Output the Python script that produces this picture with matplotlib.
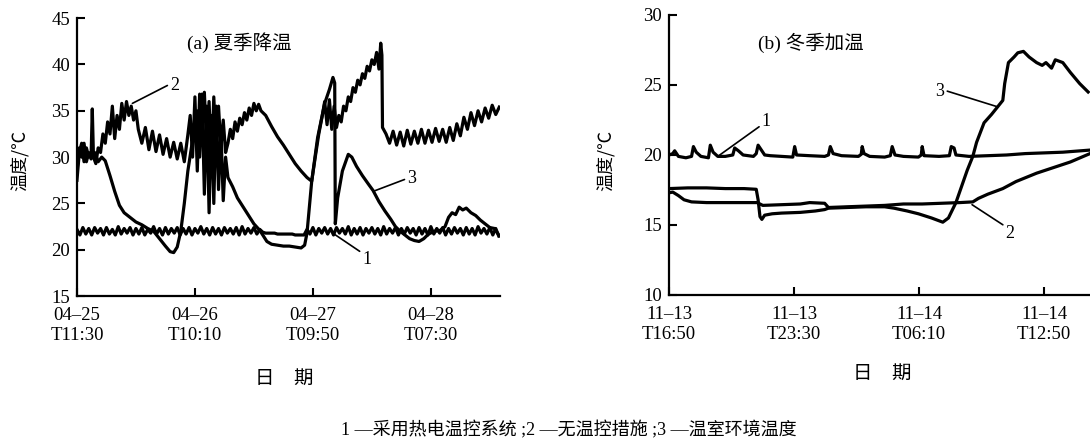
import matplotlib
matplotlib.use('Agg')
import matplotlib.pyplot as plt
import numpy as np

plt.rcParams['font.family'] = ['Liberation Serif', 'Noto Sans CJK SC']

# ---- (a) summer cooling, x in "tick units" (one tick per logged day) ----
sum_ticks = ['04–25\nT11:30', '04–26\nT10:10', '04–27\nT09:50', '04–28\nT07:30']

# curve 1: thermoelectric control, logged every 0.025 tick
sum_c1_step = 0.025
sum_c1 = [
    22.2, 21.6, 22.4, 21.7, 22.3, 21.6, 22.4, 21.8, 22.3, 21.6, 22.4, 21.7,
    22.2, 21.6, 22.5, 21.7, 22.3, 21.8, 22.4, 21.6, 22.3, 21.7, 22.4, 21.6,
    22.2, 21.8, 22.5, 21.7, 22.3, 21.6, 22.4, 21.7, 22.3, 21.8, 22.4, 21.6,
    22.3, 21.7, 22.4, 21.6, 22.3, 21.8, 22.5, 21.7, 22.3, 21.6, 22.4, 21.7,
    22.3, 21.6, 22.4, 21.8, 22.3, 21.7, 22.4, 21.6, 22.5, 21.7, 22.3, 21.8,
    22.4, 21.7, 22.2, 21.9, 21.8, 21.8, 21.8, 21.8, 21.7, 21.7, 21.7, 21.7,
    21.7, 21.7, 21.6, 21.6, 21.6, 21.6, 22.2, 21.7, 22.4, 21.6, 22.3, 21.8,
    22.4, 21.7, 22.3, 21.6, 22.4, 21.8, 22.3, 21.7, 22.5, 21.6, 22.3, 21.7,
    22.4, 21.6, 22.3, 21.8, 22.4, 21.7, 22.3, 21.6, 22.5, 21.7, 22.3, 21.8,
    22.4, 21.6, 22.3, 21.7, 22.4, 21.8, 22.3, 21.6, 22.4, 21.7, 22.3, 21.6,
    22.5, 21.7, 22.3, 21.8, 22.4, 21.6, 22.3, 21.7, 22.4, 21.8, 22.3, 21.6,
    22.4, 21.7, 22.3, 21.6, 22.5, 21.8, 22.3, 21.7, 22.4, 21.6, 22.3, 21.5,
]

# curve 2: no control
sum_c2_t = [0.00, 0.02, 0.04, 0.06, 0.08, 0.10, 0.12, 0.13, 0.14, 0.16, 0.18, 0.20,
            0.22, 0.24, 0.26, 0.28, 0.30, 0.32, 0.34, 0.36, 0.38, 0.40, 0.42, 0.44, 0.46, 0.48, 0.50,
            0.52, 0.55, 0.58, 0.61, 0.64, 0.67, 0.70, 0.73, 0.76, 0.79, 0.82, 0.85, 0.88, 0.91, 0.94,
            0.96, 0.98, 1.00, 1.02, 1.04, 1.06, 1.08, 1.10, 1.12, 1.14, 1.16, 1.18, 1.20, 1.22, 1.24, 1.26, 1.28,
            1.30, 1.32, 1.34, 1.36, 1.38, 1.40, 1.42, 1.44, 1.46, 1.48, 1.50, 1.52, 1.54, 1.56,
            1.60, 1.65, 1.70, 1.75, 1.80, 1.85, 1.90, 1.95, 1.99,
            2.02, 2.05, 2.08, 2.10, 2.12, 2.14, 2.16, 2.18, 2.20,
            2.22, 2.24, 2.26, 2.28, 2.30, 2.32, 2.34, 2.36, 2.38, 2.40, 2.42, 2.44, 2.46, 2.48,
            2.50, 2.52, 2.54, 2.56, 2.575, 2.585, 2.59, 2.62, 2.65,
            2.68, 2.71, 2.74, 2.77, 2.80, 2.83, 2.86, 2.89, 2.92, 2.95, 2.98, 3.01, 3.04, 3.07,
            3.10, 3.13, 3.16, 3.19, 3.22, 3.25, 3.28, 3.31, 3.34, 3.37, 3.40, 3.43, 3.46, 3.49,
            3.52, 3.55, 3.58]
sum_c2_v = [27.5, 30.5, 31.5, 29.5, 31.0, 30.0, 30.2, 35.2, 30.0, 29.3, 31.0, 30.5,
            32.5, 31.5, 33.8, 32.5, 35.5, 32.0, 34.5, 33.0, 35.8, 34.0, 36.0, 34.5, 35.5, 34.0, 35.0,
            33.0, 31.5, 33.2, 30.8, 32.8, 30.6, 32.4, 30.3, 32.0, 30.0, 31.6, 29.8, 31.5, 29.5, 32.4,
            34.5, 30.0, 36.5, 28.5, 36.8, 33.0, 37.0, 31.0, 36.0, 29.0, 36.5, 30.5, 35.5, 31.0, 34.0, 30.5, 31.5,
            33.0, 32.0, 33.8, 32.8, 34.2, 33.5, 34.8, 34.0, 35.3, 34.5, 35.8, 35.0, 35.7, 35.0,
            34.5, 33.3, 32.2, 31.3, 30.3, 29.3, 28.5, 27.8, 27.4,
            30.0, 32.5, 34.5, 36.0, 33.5, 36.2, 33.0, 35.5, 33.2,
            34.5, 33.8, 35.5, 35.0, 36.5, 36.0, 37.5, 37.0, 38.3, 37.8, 39.0, 38.5, 39.8, 39.3,
            40.5, 40.0, 41.3, 39.5, 42.3, 41.0, 33.2, 32.5, 31.5,
            32.8, 31.3, 32.7, 31.2, 32.9, 31.4, 32.8, 31.5, 33.0, 31.5, 32.9, 31.6, 33.1, 31.7,
            33.0, 31.6, 33.2, 31.8, 33.6, 32.3, 34.3, 33.0, 34.8, 33.4, 35.0, 33.8, 35.3, 34.2,
            35.6, 34.6, 35.4]

# curve 3: greenhouse ambient
sum_c3_t = [0.00, 0.02, 0.04, 0.06, 0.08, 0.10, 0.12, 0.15, 0.18, 0.21, 0.24, 0.28, 0.32, 0.36,
            0.40, 0.45, 0.50, 0.55, 0.60, 0.65, 0.70, 0.75, 0.79, 0.82, 0.85, 0.88, 0.91, 0.94,
            0.97, 1.00, 1.02, 1.04, 1.06, 1.08, 1.10, 1.12, 1.14, 1.16, 1.18, 1.20, 1.22, 1.24,
            1.26, 1.28, 1.32, 1.36, 1.40, 1.45, 1.50, 1.55, 1.58, 1.61, 1.65, 1.70, 1.75, 1.80,
            1.85, 1.90, 1.93, 1.95, 1.99, 2.04, 2.10, 2.14, 2.17, 2.185, 2.19, 2.21, 2.25, 2.30,
            2.33, 2.37, 2.42, 2.47, 2.51, 2.56, 2.61, 2.66, 2.70, 2.74, 2.78, 2.82, 2.86, 2.90,
            2.94, 2.98, 3.03, 3.08, 3.12, 3.15, 3.18, 3.21, 3.24, 3.27, 3.30, 3.34, 3.38, 3.42,
            3.46, 3.50, 3.54, 3.58]
sum_c3_v = [28.5, 31.0, 30.0, 31.5, 29.5, 30.5, 29.8, 30.5, 29.5, 30.0, 29.6, 28.0, 26.3, 24.8,
            24.0, 23.5, 23.0, 22.7, 22.3, 22.0, 21.2, 20.4, 19.8, 19.7, 20.3, 22.0, 25.0, 28.5,
            31.0, 33.5, 35.0, 30.0, 36.8, 26.0, 35.5, 24.0, 34.5, 25.0, 35.5, 26.5, 33.0, 25.3,
            30.0, 27.8, 26.8, 25.6, 24.8, 23.8, 22.8, 22.1, 21.5, 20.9, 20.6, 20.5, 20.4, 20.4,
            20.3, 20.2, 20.5, 21.8, 27.4, 32.1, 35.8, 37.3, 38.6, 38.0, 22.8, 25.6, 28.5, 30.3,
            30.0, 29.0, 28.0, 27.1, 26.4, 25.2, 24.2, 23.3, 22.5, 22.0, 21.6, 21.2, 21.0, 20.9,
            21.2, 21.7, 22.0, 22.1, 22.5, 23.5, 24.0, 23.8, 24.6, 24.3, 24.5, 24.0, 23.7, 23.2,
            22.8, 22.4, 22.3, 21.5]

# ---- (b) winter heating, x in hours from 11-13 16:50 ----
win_tick_h = [0, 6.667, 13.333, 20.0]
win_ticks = ['11–13\nT16:50', '11–13\nT23:30', '11–14\nT06:10', '11–14\nT12:50']

win_c1_t = [0.0, 0.2, 0.3, 0.5, 0.9, 1.2, 1.3, 1.45, 1.7, 2.1, 2.2, 2.35, 2.6, 3.0, 3.4, 3.5,
            3.7, 3.95, 4.5, 4.65, 4.75, 4.9, 5.1, 5.4, 6.0, 6.6, 6.7, 6.8, 7.5, 8.3, 8.5, 8.6,
            8.75, 9.2, 10.1, 10.25, 10.3, 10.4, 10.7, 11.5, 11.8, 11.9, 12.05, 12.5, 13.3, 13.45,
            13.5, 13.6, 14.4, 14.95, 15.05, 15.2, 15.3, 16.0, 17.0, 18.0, 19.0, 20.0, 21.0, 22.45]
win_c1_v = [20.0, 20.1, 20.3, 19.9, 19.8, 19.9, 20.6, 20.2, 19.9, 19.8, 20.7, 20.2, 19.9, 19.9, 20.0, 20.5,
            20.3, 20.0, 19.9, 20.1, 20.7, 20.4, 20.0, 19.95, 19.9, 19.85, 20.6, 20.0, 19.95, 19.9, 20.0, 20.6,
            20.1, 19.95, 19.9, 20.05, 20.6, 20.1, 19.9, 19.85, 19.95, 20.6, 20.0, 19.9, 19.85, 20.0,
            20.6, 19.95, 19.9, 19.95, 20.6, 20.5, 20.0, 19.9, 19.95, 20.0, 20.1, 20.15, 20.2, 20.35]

win_c2_t = [0.0, 0.2, 0.5, 0.8, 1.2, 2.0, 3.0, 4.0, 4.7, 5.0, 6.0, 7.0, 7.5, 8.3, 8.5, 9.5,
            10.5, 11.5, 12.5, 13.5, 14.5, 15.5, 16.2, 16.5, 17.0, 17.8, 18.5, 19.6, 20.5, 21.4, 22.45]
win_c2_v = [17.3, 17.35, 17.1, 16.8, 16.65, 16.6, 16.6, 16.6, 16.6, 16.4, 16.45, 16.5, 16.6, 16.55, 16.25, 16.3,
            16.35, 16.4, 16.5, 16.5, 16.55, 16.6, 16.65, 16.9, 17.2, 17.6, 18.1, 18.7, 19.1, 19.5, 20.1]

win_c3_t = [0.0, 1.0, 2.0, 3.0, 4.0, 4.65, 4.75, 4.85, 4.95, 5.1, 5.5, 6.0, 7.0, 7.8, 8.3, 8.5,
            9.5, 10.5, 11.5, 12.0, 12.7, 13.3, 14.0, 14.6, 14.9, 15.3, 15.9, 16.2, 16.4, 16.8, 17.2,
            17.5, 17.8, 17.9, 18.1, 18.4, 18.6, 18.9, 19.2, 19.6, 19.9, 20.1, 20.4, 20.6, 21.0,
            21.4, 21.9, 22.35]
win_c3_v = [17.6, 17.65, 17.65, 17.6, 17.6, 17.55, 16.8, 15.6, 15.4, 15.7, 15.8, 15.85, 15.9, 16.0, 16.1, 16.2,
            16.25, 16.3, 16.3, 16.2, 16.0, 15.8, 15.5, 15.2, 15.5, 16.6, 18.9, 19.9, 20.9, 22.3, 22.9,
            23.4, 23.9, 25.1, 26.6, 27.0, 27.3, 27.4, 27.0, 26.6, 26.4, 26.6, 26.2, 26.8, 26.6,
            25.9, 25.1, 24.5]

cjk = ['Noto Sans CJK SC']
mixed = ['Liberation Serif', 'Noto Sans CJK SC']
LW = 2.3

fig = plt.figure(figsize=(10.9, 4.42), dpi=100)
ax1 = fig.add_axes([0.0706, 0.330, 0.388, 0.629])
ax2 = fig.add_axes([0.6138, 0.3326, 0.3862, 0.6335])

for ax in (ax1, ax2):
    ax.spines['top'].set_visible(False)
    ax.spines['right'].set_visible(False)
    ax.spines['left'].set_linewidth(1.6)
    ax.spines['bottom'].set_linewidth(1.6)
    ax.tick_params(direction='in', length=6, width=1.5, labelsize=13.5,
                   colors='black')
    ax.tick_params(axis='x', pad=8)
    ax.tick_params(axis='y', pad=5)

# (a)
t1 = np.arange(len(sum_c1)) * sum_c1_step
ax1.plot(t1, sum_c1, color='black', lw=LW)
ax1.plot(sum_c2_t, sum_c2_v, color='black', lw=LW)
ax1.plot(sum_c3_t, sum_c3_v, color='black', lw=LW)
ax1.set_xlim(0, 3.585)
ax1.set_ylim(15, 45)
ax1.set_yticks([15, 20, 25, 30, 35, 40, 45])
ax1.set_xticks(range(len(sum_ticks)))
ax1.set_xticklabels(sum_ticks)

ann = dict(arrowstyle='-', color='black', lw=1.2, shrinkA=0, shrinkB=0)
ax1.annotate('2', xy=(0.47, 35.8), xytext=(0.79, 37.7), fontsize=13, ha='left', va='center',
             arrowprops=dict(ann, relpos=(0, 0.6)))
ax1.annotate('3', xy=(2.51, 26.3), xytext=(2.80, 27.7), fontsize=13, ha='left', va='center',
             arrowprops=dict(ann, relpos=(0, 0.5)))
ax1.annotate('1', xy=(2.18, 21.7), xytext=(2.42, 18.9), fontsize=13, ha='left', va='center',
             arrowprops=dict(ann, relpos=(0, 0.9)))

# (b)
ax2.plot(win_c1_t, win_c1_v, color='black', lw=LW)
ax2.plot(win_c2_t, win_c2_v, color='black', lw=LW)
ax2.plot(win_c3_t, win_c3_v, color='black', lw=LW)
ax2.set_xlim(0, 22.45)
ax2.set_ylim(10, 30)
ax2.set_yticks([10, 15, 20, 25, 30])
ax2.set_xticks(win_tick_h)
ax2.set_xticklabels(win_ticks)

ax2.annotate('1', xy=(2.6, 19.9), xytext=(4.95, 22.4), fontsize=13, ha='left', va='center',
             arrowprops=dict(ann, relpos=(0, 0.3)))
ax2.annotate('3', xy=(17.5, 23.45), xytext=(14.45, 24.5), fontsize=13, ha='center', va='center',
             arrowprops=dict(ann, relpos=(1, 0.6)))
ax2.annotate('2', xy=(16.16, 16.45), xytext=(17.95, 14.4), fontsize=13, ha='left', va='center',
             arrowprops=dict(ann, relpos=(0, 0.9)))

# titles and labels
fig.text(0.220, 0.903, '(a) 夏季降温', fontsize=14, ha='center', va='center', family=mixed)
fig.text(0.744, 0.903, '(b) 冬季加温', fontsize=14, ha='center', va='center', family=mixed)
fig.text(0.0183, 0.638, '温度/℃', fontsize=13, rotation=90, ha='center', va='center', family=cjk)
fig.text(0.556, 0.636, '温度/℃', fontsize=13, rotation=90, ha='center', va='center', family=cjk)
fig.text(0.2606, 0.145, '日　期', fontsize=14, ha='center', va='center', family=cjk)
fig.text(0.809, 0.155, '日　期', fontsize=14, ha='center', va='center', family=cjk)
fig.text(0.522, 0.027, '1 —采用热电温控系统 ;2 —无温控措施 ;3 —温室环境温度',
         fontsize=13, ha='center', va='center', family=mixed)

fig.savefig('out.png', dpi=100)
